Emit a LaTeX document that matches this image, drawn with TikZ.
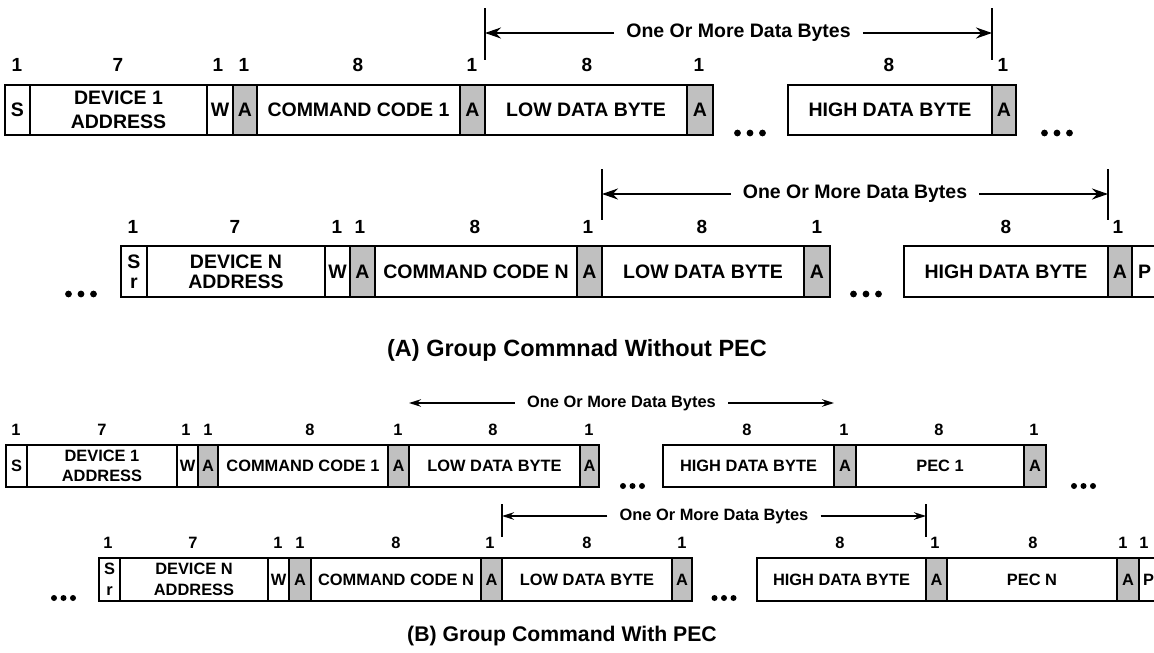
\documentclass[tikz,border=0pt]{standalone}
\usepackage{fontspec}
\setmainfont{Liberation Sans}
\usetikzlibrary{calc,arrows.meta,positioning}
\definecolor{ackgray}{RGB}{192,192,192}
\tikzset{
  field/.style={draw,inner sep=0pt,outer sep=0pt,align=center},
  fieldA/.style={field,line width=2pt,font=\fontsize{19.5}{24}\selectfont\bfseries},
  fieldB/.style={field,line width=1.4pt,font=\fontsize{16.4}{20.5}\selectfont\bfseries},
  bitsA/.style={inner sep=0pt,font=\fontsize{19}{22}\selectfont\bfseries},
  bitsB/.style={inner sep=0pt,font=\fontsize{16.4}{19}\selectfont\bfseries},
  spanA/.style={inner sep=0pt,inner xsep=12pt,font=\fontsize{19.5}{24}\selectfont\bfseries},
  spanB/.style={inner sep=0pt,inner xsep=12pt,font=\fontsize{16.4}{20}\selectfont\bfseries},
  arrowA/.style={line width=2pt,-{Stealth[length=16pt,width=11pt]}},
  arrowB/.style={line width=1.3pt,-{Stealth[length=12pt,width=7.5pt]}},
  barA/.style={line width=2pt},
  barB/.style={line width=1.3pt},
  grouptitle/.style={inner sep=0pt}
}
\begin{document}
\begin{tikzpicture}[x=1pt,y=-1pt,line join=miter]
\useasboundingbox (0,0) rectangle (1154,653);

% (A) first device
\foreach \a/\b/\t/\n/\c in {5/30/S/s/white, 30/207/{DEVICE 1\\ADDRESS}/dev/white,
  207/233/W/w/white, 233/257/A/a1/ackgray, 257/460/COMMAND CODE 1/cmd/white,
  460/485/A/a2/ackgray, 485/687/LOW DATA BYTE/low/white, 687/713/A/a3/ackgray,
  788/992/HIGH DATA BYTE/high/white, 992/1016/A/a4/ackgray}
  \node[fieldA,fill=\c,minimum width={(\b-\a)*1pt},minimum height=50pt] (ra-\n) at ({(\a+\b)/2},110) {\t};
\foreach \x/\t [count=\i] in {17/1,118/7,218/1,244/1,358/8,472/1,587/8,699/1,889/8,1003/1}
  \node[bitsA] (ra-b\i) at (\x,65) {\t};

% (A) last device
\foreach \a/\b/\t/\n/\c in {121/147/{S\\[-4pt]r}/s/white, 147/325/{DEVICE N\\[-4pt]ADDRESS}/dev/white,
  325/350/W/w/white, 350/375/A/a1/ackgray, 375/577/COMMAND CODE N/cmd/white,
  577/602/A/a2/ackgray, 602/804/LOW DATA BYTE/low/white, 804/830/A/a3/ackgray,
  904/1108/HIGH DATA BYTE/high/white, 1108/1132/A/a4/ackgray, 1132/1157/P/p/white}
  \node[fieldA,fill=\c,minimum width={(\b-\a)*1pt},minimum height=51pt] (rb-\n) at ({(\a+\b)/2},271.5) {\t};
\foreach \x/\t [count=\i] in {133/1,235/7,337/1,360/1,475/8,588/1,702/8,817/1,1006/8,1118/1}
  \node[bitsA] (rb-b\i) at (\x,227) {\t};

\foreach \x/\y in {750/133,1057/133,81/294,866/294}
  \foreach \d in {-12.5,0,12.5}
    \fill ({\x+\d},\y) circle (3.4pt);

% data byte spans, (A)
\node[spanA] (ra-span) at ($(ra-low.north west)!.5!(ra-high.north east)+(0,-52)$) {One Or More Data Bytes};
\coordinate (ra-l) at (ra-low.north west |- ra-span);
\coordinate (ra-r) at (ra-high.north east |- ra-span);
\draw[barA] ($(ra-l)+(0,-25)$) -- ($(ra-l)+(0,27)$);
\draw[barA] ($(ra-r)+(0,-25)$) -- ($(ra-r)+(0,27)$);
\draw[arrowA] (ra-span) -- (ra-l);
\draw[arrowA] (ra-span) -- (ra-r);

\node[spanA] (rb-span) at ($(rb-low.north west)!.5!(rb-high.north east)+(0,-52)$) {One Or More Data Bytes};
\coordinate (rb-l) at (rb-low.north west |- rb-span);
\coordinate (rb-r) at (rb-high.north east |- rb-span);
\draw[barA] ($(rb-l)+(0,-25)$) -- ($(rb-l)+(0,26)$);
\draw[barA] ($(rb-r)+(0,-25)$) -- ($(rb-r)+(0,26)$);
\draw[arrowA] (rb-span) -- (rb-l);
\draw[arrowA] (rb-span) -- (rb-r);

\node[grouptitle,font=\fontsize{23.5}{28}\selectfont\bfseries] (title-a) at (577,350) {(A) Group Commnad Without PEC};

% (B) first device
\foreach \a/\b/\t/\n/\c in {6/27/S/s/white, 27/177/{DEVICE 1\\ADDRESS}/dev/white,
  177/198/W/w/white, 198/218/A/a1/ackgray, 218/388/COMMAND CODE 1/cmd/white,
  388/409/A/a2/ackgray, 409/580/LOW DATA BYTE/low/white, 580/599/A/a3/ackgray,
  663/834/HIGH DATA BYTE/high/white, 834/856/A/a4/ackgray, 856/1024/PEC 1/pec/white,
  1024/1046/A/a5/ackgray}
  \node[fieldB,fill=\c,minimum width={(\b-\a)*1pt},minimum height=42pt] (rc-\n) at ({(\a+\b)/2},466) {\t};
\foreach \x/\t [count=\i] in {16/1,102/7,186/1,208/1,310/8,398/1,493/8,589/1,747/8,844/1,939/8,1034/1}
  \node[bitsB] (rc-b\i) at (\x,430) {\t};

% (B) last device
\foreach \a/\b/\t/\n/\c in {99/120/{S\\r}/s/white, 120/268/{DEVICE N\\ADDRESS}/dev/white,
  268/289/W/w/white, 289/311/A/a1/ackgray, 311/481/COMMAND CODE N/cmd/white,
  481/502/A/a2/ackgray, 502/672/LOW DATA BYTE/low/white, 672/692/A/a3/ackgray,
  757/926/HIGH DATA BYTE/high/white, 926/947/A/a4/ackgray, 947/1117/PEC N/pec/white,
  1117/1139/A/a5/ackgray, 1139/1158/P/p/white}
  \node[fieldB,fill=\c,minimum width={(\b-\a)*1pt},minimum height=43pt] (rd-\n) at ({(\a+\b)/2},579.5) {\t};
\foreach \x/\t [count=\i] in {108/1,193/7,278/1,300/1,396/8,490/1,587/8,682/1,840/8,935/1,1033/8,1123/1,1144/1}
  \node[bitsB] (rd-b\i) at (\x,543) {\t};

\foreach \x/\y in {632.5/486,1083.5/486,63.5/598,724/598}
  \foreach \d in {-9.5,0,9.5}
    \fill ({\x+\d},\y) circle (3pt);

% data byte spans, (B)
\node[spanB] (rc-span) at ($(rc-low.north west)!.5!(rc-high.north east)+(0,-42)$) {One Or More Data Bytes};
\coordinate (rc-l) at (rc-low.north west |- rc-span);
\coordinate (rc-r) at (rc-high.north east |- rc-span);
\draw[arrowB] (rc-span) -- (rc-l);
\draw[arrowB] (rc-span) -- (rc-r);

\node[spanB] (rd-span) at ($(rd-low.north west)!.5!(rd-high.north east)+(0,-42)$) {One Or More Data Bytes};
\coordinate (rd-l) at (rd-low.north west |- rd-span);
\coordinate (rd-r) at (rd-high.north east |- rd-span);
\draw[barB] ($(rd-l)+(0,-12)$) -- ($(rd-l)+(0,21)$);
\draw[barB] ($(rd-r)+(0,-12)$) -- ($(rd-r)+(0,21)$);
\draw[arrowB] (rd-span) -- (rd-l);
\draw[arrowB] (rd-span) -- (rd-r);

\node[grouptitle,font=\fontsize{21.2}{25}\selectfont\bfseries] (title-b) at (562,636) {(B) Group Command With PEC};

\end{tikzpicture}
\end{document}
